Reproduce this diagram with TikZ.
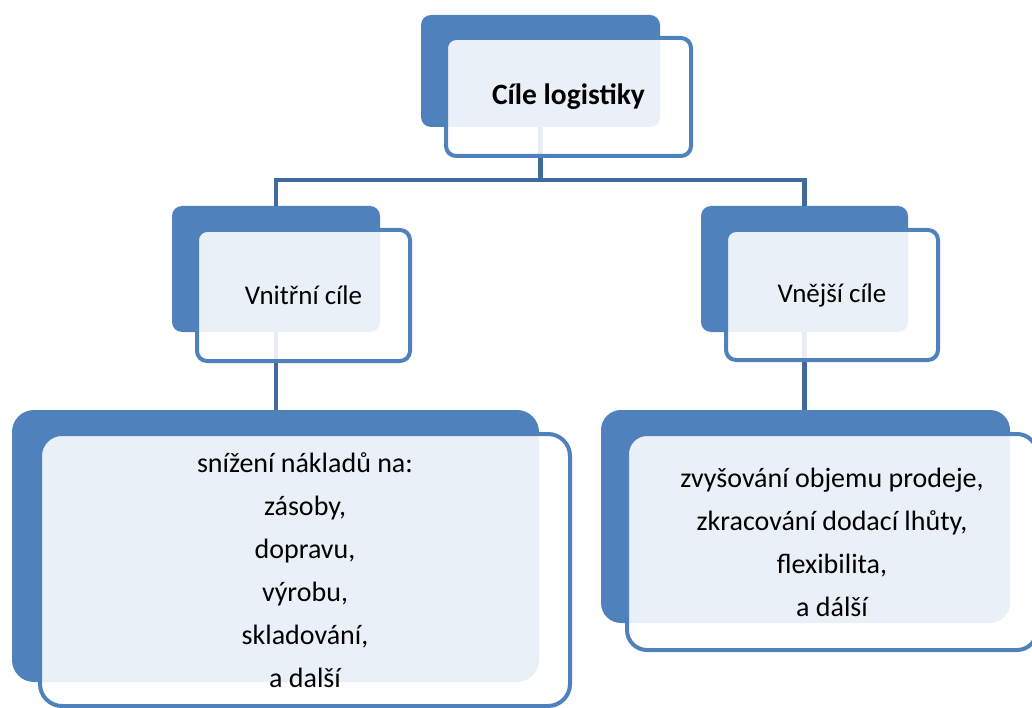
\documentclass[tikz,border=0pt]{standalone}
\usepackage{fontspec}
\setmainfont{Carlito}
\definecolor{boxblue}{RGB}{79,129,189}
\definecolor{linkblue}{RGB}{65,105,155}
\begin{document}
\begin{tikzpicture}[x=1pt, y=-1pt,
	backbox/.style={fill=boxblue, rounded corners=10pt, inner sep=0pt},
	frontbox/.style={draw=boxblue, line width=4pt, fill=white, fill opacity=.885, text opacity=1,
		rounded corners=10pt, align=center, inner sep=0pt, font=\fontsize{27}{43}\selectfont},
	link/.style={draw=linkblue, line width=4.5pt}
	]
	\useasboundingbox (0,0) rectangle (1032,708);
	\clip (0,0) rectangle (1032,708);
	
	\node [backbox, minimum width=239pt, minimum height=112pt] (cile) at (540.5,71) {};
	\node [backbox, minimum width=208pt, minimum height=126pt] (vnitrni) at (276,269) {};
	\node [backbox, minimum width=207pt, minimum height=126pt] (vnejsi) at (804.5,269) {};
	\node [backbox, rounded corners=22pt, minimum width=527pt, minimum height=272pt] (naklady) at (275.5,546) {};
	\node [backbox, rounded corners=20pt, minimum width=409pt, minimum height=213pt] (prodej) at (805.5,516.5) {};
	
	\draw [link] (cile.south) -- ++(0,53) -| (vnitrni.north);
	\draw [link] (cile.south) -- ++(0,53) -| (vnejsi.north);
	\draw [link] (vnitrni.south) -- (vnitrni.south |- naklady.north);
	\draw [link] (vnejsi.south) -- (vnejsi.south |- prodej.north);
	
	\node [frontbox, font=\fontsize{29.5}{34}\selectfont\bfseries, minimum width=245pt, minimum height=118pt] (cilef) at (568.5,97) {Cíle logistiky};
	\node [frontbox, minimum width=213pt, minimum height=131pt] (vnitrnif) at (303.5,295.5) {Vnitřní cíle};
	\node [frontbox, minimum width=212pt, minimum height=130pt] (vnejsif) at (832,295) {Vnější cíle};
	\node [frontbox, font=\fontsize{28}{43}\selectfont, rounded corners=22pt, minimum width=530pt, minimum height=272pt] (nakladyf) at (305,570)
	{snížení nákladů na:\\zásoby,\\dopravu,\\výrobu,\\skladování,\\a další};
	\node [frontbox, font=\fontsize{28}{43}\selectfont, rounded corners=20pt, minimum width=410pt, minimum height=216pt] (prodejf) at (832,542)
	{zvyšování objemu prodeje,\\zkracování dodací lhůty,\\flexibilita,\\a dálší};
\end{tikzpicture}
\end{document}
